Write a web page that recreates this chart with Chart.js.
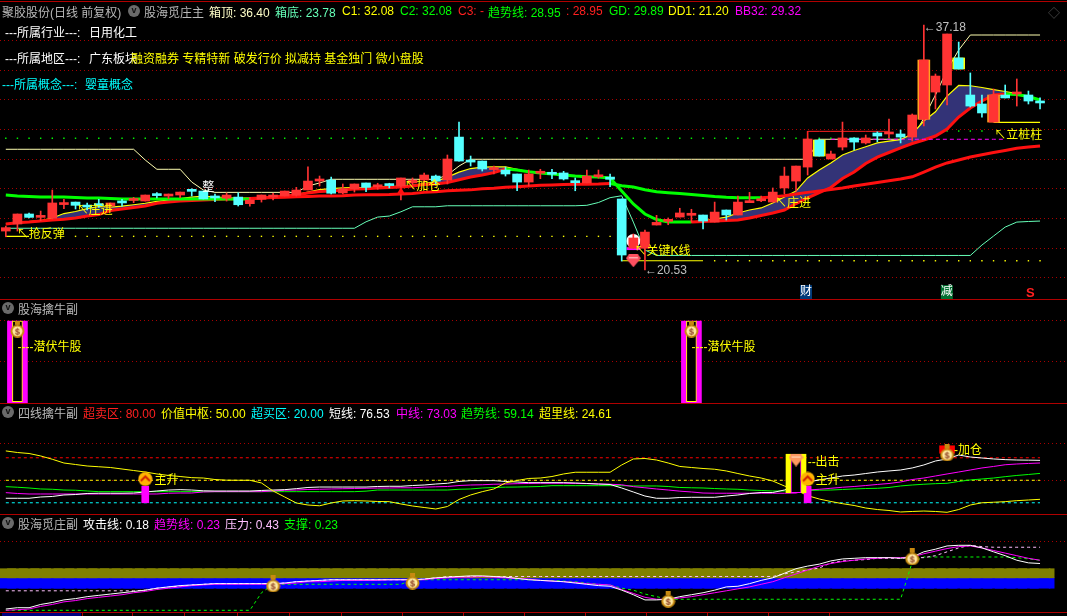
<!DOCTYPE html>
<html lang="zh-CN">
<head>
<meta charset="utf-8">
<title>聚胶股份</title>
<script src="https://cdn.jsdelivr.net/npm/chart.js@4/dist/chart.umd.min.js"></script>
<style>
  html, body { margin: 0; background: #000; overflow: hidden; }
  #page { position: relative; width: 1067px; height: 616px; background: #000; overflow: hidden; }
  #page canvas { position: absolute; left: 0; }
  .txt { position: absolute; white-space: pre; transform: translateY(-50%); font: 12px "Liberation Sans", "Noto Sans CJK SC", sans-serif; }
  .ico { position: absolute; width: 12px; height: 12px; border-radius: 50%; background: #6a6a6a; color: #111; font: bold 9px/10px "Liberation Sans"; text-align: center; }
  .sep { position: absolute; left: 0; width: 1067px; height: 1px; background: #b00000; }
  .tick { position: absolute; top: 612px; width: 1px; height: 4px; background: #b00000; }
</style>
</head>
<body>
<div id="page"></div>
<script>
// k线,从图上读的
const opens = [
  23.17,23.65,24.33,24.10,24.04,24.97,25.14,24.87,24.94,24.87,
  25.12,25.25,25.21,25.62,25.55,25.62,25.91,25.89,25.46,25.40,
  25.48,25.03,25.33,25.48,25.55,25.60,25.96,26.57,26.64,25.76,
  26.03,26.44,26.18,26.30,26.23,26.44,26.64,26.91,26.64,29.56,
  28.00,27.93,27.35,27.32,27.05,26.50,27.10,27.07,27.12,26.50,
  26.44,26.86,26.84,25.35,22.00,22.00,23.58,23.83,24.12,24.24,
  24.26,23.78,24.60,24.26,25.10,25.23,25.14,26.10,26.57,27.52,
  29.36,28.07,28.88,29.50,29.16,29.84,29.77,29.77,29.56,30.77,
  32.62,33.10,34.94,32.42,31.81,30.58,32.42,32.49,32.42,32.01];
const closes = [
  23.40,24.33,24.10,24.19,25.08,25.01,24.92,24.80,24.90,25.08,
  25.08,25.28,25.62,25.58,25.59,25.82,25.87,25.35,25.42,25.62,
  24.96,25.28,25.62,25.62,25.89,25.96,26.57,26.71,25.74,26.03,
  26.37,26.14,26.25,26.26,26.78,26.64,26.98,26.57,28.07,27.93,
  27.86,27.39,27.39,27.05,26.50,27.05,27.18,27.03,26.71,26.46,
  26.91,26.98,26.69,21.54,22.70,23.10,23.76,23.92,24.40,24.38,
  23.85,24.46,24.26,25.14,25.16,25.35,25.82,26.91,27.59,29.43,
  28.27,28.41,29.50,29.22,29.50,29.63,29.84,29.56,31.06,34.80,
  33.71,36.57,34.19,31.67,31.20,32.42,32.22,32.62,32.01,31.88];
const highs = [
  23.51,24.33,24.40,24.53,25.96,25.33,25.14,25.08,25.33,25.08,
  25.33,25.46,25.62,25.78,25.69,25.82,26.05,25.89,25.69,25.76,
  25.78,25.46,25.62,25.74,25.89,26.14,27.54,26.91,26.84,26.37,
  26.37,26.44,26.42,26.42,26.78,26.78,27.12,26.98,28.34,30.58,
  28.27,27.93,27.59,27.52,27.05,27.32,27.37,27.37,27.23,26.78,
  27.32,27.32,27.05,25.35,22.97,23.24,24.24,24.06,24.72,24.65,
  24.26,25.14,24.60,25.55,25.80,25.55,26.10,27.52,27.59,29.43,
  29.43,28.61,30.58,29.50,29.70,29.92,30.79,30.04,31.13,37.18,
  33.85,36.57,36.02,33.92,32.42,32.83,33.10,33.51,32.69,32.22];
const lows = [
  22.78,23.17,24.06,23.87,23.99,24.69,24.67,24.60,24.78,24.53,
  24.87,25.10,25.21,25.42,25.37,25.44,25.55,25.35,25.16,25.21,
  24.87,24.87,25.14,25.28,25.55,25.55,25.96,26.23,25.69,25.69,
  25.82,25.84,26.01,26.10,25.28,26.30,26.37,26.30,26.37,27.93,
  27.59,27.25,27.05,26.91,25.91,26.23,26.73,26.73,26.64,25.91,
  26.44,26.76,26.18,21.13,22.00,20.53,23.58,23.60,24.12,23.78,
  23.31,23.78,23.92,24.26,25.10,25.16,25.14,25.69,25.89,26.98,
  28.27,28.07,28.68,28.68,29.09,29.24,29.50,29.16,29.29,30.31,
  31.47,31.74,34.19,31.60,30.92,30.58,32.22,31.67,31.81,31.47];

// 主图的线
const trendLine = [
  25.62,25.55,25.52,25.48,25.48,25.48,25.45,25.42,25.42,25.38,
  25.35,25.35,25.35,25.35,25.35,25.35,25.35,25.35,25.35,25.35,
  25.35,25.35,25.42,25.45,25.46,25.50,25.52,25.55,25.56,25.57,
  25.62,25.63,25.64,25.65,25.69,25.72,25.80,25.84,25.91,25.95,
  25.97,26.05,26.08,26.14,26.18,26.23,26.28,26.30,26.33,26.35,
  26.36,26.37,26.40,26.25,26.16,25.98,25.84,25.78,25.72,25.65,
  25.59,25.52,25.47,25.44,25.44,25.44,25.48,25.57,25.69,25.80,
  25.89,25.99,26.10,26.23,26.35,26.47,26.59,26.71,26.86,27.18,
  27.52,27.80,28.00,28.20,28.36,28.51,28.65,28.80,28.88,28.95];
const c1Line = [
  23.65,23.74,23.82,23.89,24.06,24.36,24.50,24.70,24.84,24.80,
  24.87,24.96,25.06,25.19,25.28,25.38,25.48,25.55,25.48,25.45,
  25.42,25.42,25.42,25.45,25.48,25.65,25.82,25.99,26.06,26.10,
  26.12,26.13,26.16,26.20,26.23,26.28,26.39,26.54,26.84,27.18,
  27.42,27.52,27.54,27.54,27.37,27.20,27.12,27.05,26.98,26.91,
  26.86,26.84,26.78,25.89,25.01,24.33,23.95,23.78,23.78,23.78,
  23.87,23.99,24.12,24.40,24.60,24.74,25.08,25.48,25.89,26.78,
  27.32,27.80,28.34,28.65,28.90,29.16,29.29,29.39,29.77,30.65,
  31.28,32.35,33.07,33.05,32.93,32.79,32.66,32.52,32.28,32.08];
const c2Line = [
  23.65,23.74,23.78,23.85,23.92,23.97,24.06,24.19,24.29,24.57,
  24.67,24.77,24.87,25.06,25.14,25.21,25.25,25.28,25.31,25.35,
  25.37,25.38,25.42,25.48,25.55,25.62,25.76,25.86,25.89,25.96,
  26.03,26.05,26.10,26.13,26.16,26.23,26.33,26.37,26.47,26.66,
  26.84,26.98,27.14,27.39,27.32,27.20,27.12,27.05,26.98,26.91,
  26.86,26.84,26.78,25.89,25.01,24.33,23.95,23.78,23.78,23.78,
  23.82,23.85,23.89,23.92,24.06,24.23,24.40,24.60,25.04,25.42,
  25.79,26.13,26.74,27.18,27.76,28.20,28.51,28.82,29.12,29.36,
  29.63,30.11,30.92,31.54,32.01,32.42,32.49,32.45,32.32,32.08];
const boxTop = [
  28.73,28.73,28.73,28.73,28.73,28.73,28.73,28.73,28.73,28.73,
  28.73,28.73,28.00,27.37,27.37,27.37,26.50,25.96,25.80,25.80,
  25.80,25.80,25.80,25.80,25.80,25.80,26.23,26.44,26.69,26.69,
  26.69,26.69,26.69,26.69,26.69,26.69,26.69,26.69,26.98,27.59,
  28.05,28.05,28.05,28.05,28.05,28.05,28.05,28.05,28.05,28.05,
  28.05,28.05,28.05,28.05,28.05,28.05,28.05,28.05,28.05,28.05,
  28.05,28.05,28.05,28.05,28.05,28.05,28.05,28.05,28.05,28.05,
  29.41,29.41,29.41,29.41,29.41,29.41,29.41,29.41,29.41,30.86,
  32.42,34.12,35.48,36.50,36.50,36.50,36.50,36.50,36.50,36.50];
const boxBottom = [
  23.36,23.36,23.36,23.36,23.36,23.36,23.36,23.36,23.36,23.36,
  23.36,23.36,23.36,23.36,23.36,23.36,23.36,23.36,23.36,23.36,
  23.36,23.36,23.36,23.36,23.36,23.36,23.36,23.36,23.36,23.36,
  23.36,23.80,24.12,24.19,24.48,24.82,24.82,24.82,24.89,24.89,
  24.89,24.89,24.89,24.89,24.89,24.89,24.89,24.89,24.89,24.89,
  24.92,25.11,25.44,25.57,23.78,21.88,21.51,21.51,21.51,21.51,
  21.51,21.51,21.51,21.51,21.51,21.51,21.51,21.51,21.51,21.51,
  21.51,21.51,21.51,21.51,21.51,21.51,21.51,21.51,21.51,21.51,
  21.51,21.51,21.51,21.51,22.22,22.83,23.44,23.78,23.82,23.85];
// [起, 止, 值]
const gdDots = [[0, 78, 29.48], [79, 84, 29.97]];
const ddDots = [[6, 52, 22.81], [61, 89, 21.15]];
const yellowSteps = [[0, 2, 22.81], [53, 60, 21.15], [85, 89, 30.56]];
const redStep = [[69, 76, 29.95]];
const pinkStep = [[71, 86, 29.41]];
const mainGrid = [36.14, 34.07, 32.13, 30.09, 28.05, 26.05, 24.01, 22.00, 20.02];

// 四线擒牛副
const shortLine = [
  26,26,26,27.7,28.4,30.4,31,32.4,32.7,32.7,
  32.7,33,34.4,35.7,37,37.5,37,36,35.7,35.7,
  35.7,35.7,36.4,37,37.5,38.8,40.4,41,41,41,
  41,41,41.7,42,42,43,43.7,45,46,48.4,
  49.5,49.5,49.5,48.4,47.7,46.8,46.8,46.8,46.8,46.4,
  45.7,45,44.4,39.7,34.4,29,26,26,27,27.3,
  27.3,27.3,29,30.4,32.4,33.7,33.7,37,42.4,47.7,
  50.4,53,55.7,57,59,61,62.4,63.7,66.4,70.4,
  75.7,78.4,83.7,81,79.7,78.4,77.5,77,76.8,76.53];
const midLine = [
  33.5,32.4,31.7,31.7,31.7,31.7,31.7,31.7,31.7,31.7,
  31.7,31.7,31.7,31.7,32.7,33,33,34.4,34.8,34.8,
  34.8,34.8,34.8,35.7,36.7,37,37.7,38,38.4,38.7,
  39,39.3,39.6,39.7,40,40,40.8,41.3,41.7,43,
  43.7,44,44.7,45,45.5,45.7,46,46,46,45.7,
  45.5,45,44.7,44,41.5,40,38.4,37,35.5,34.4,
  33,32.7,32.7,32.7,32.7,32.7,32.7,32.7,33,37,
  38,39.3,40.7,41.7,43,44.4,45.7,47.7,51,53,
  55.7,58.4,61,63.7,66.4,68.4,70.7,71.7,72.4,73.03];
const trend3Line = [
  41.5,40.7,39.7,38.4,38,37,36.7,35.7,34.8,34.8,
  34.8,34.8,34.8,34.8,34.8,34.8,34.8,34.8,34.8,34.8,
  34.8,34.8,34.8,34.8,34.8,34.8,34.8,34.8,34.8,34.8,
  34.8,35.5,37,37,37,37,37,37,37,38,
  38.4,39.7,40.4,40.8,41,41.3,41.7,42.8,42.8,42.8,
  42.8,42.8,42.8,42.8,42.4,42.4,42.4,41.7,40.4,40,
  39.7,39,38.4,38,37,36.4,35.7,35.7,35.7,36.4,
  36.8,37,37.7,38.4,39,39.3,40.4,42.4,43.7,44.7,
  45.5,46,48.4,50.4,51.7,53,54.8,56.4,57.7,59.14];
const overLine = [
  89.1,87,85.7,82.4,78,73,71,69,68,67,
  65,63,61,58.4,56.4,55,53.5,53,51,50.1,
  50,50,46.4,35.7,27.7,19.7,17,16,19.7,22.4,
  22.8,22.4,21.7,21.5,18.4,15.7,13.7,11.7,15,24.4,
  30.4,34.8,38.4,46.4,49.7,52.4,53,55,58.4,60.7,
  60.7,60.7,60.7,70.4,78.4,79,77,73,68.4,67,
  65.7,64.7,62.4,59,55.7,53,49,42.4,37,29.5,
  25,21.7,18.8,16.4,13,11,9.7,7.7,8.4,9,
  8.4,7.3,11,17,20,20.7,21.5,22.8,23.7,24.61];
const levels = [[80, '#ff0000'], [50, '#ffff00'], [20, '#00ffff']];
const grid3 = [99.3, 50];

// 股海觅庄副
const attackLine = [
  -0.52,-0.50,-0.50,-0.45,-0.42,-0.38,-0.36,-0.33,-0.31,-0.29,
  -0.27,-0.25,-0.23,-0.20,-0.18,-0.16,-0.15,-0.14,-0.13,-0.13,
  -0.13,-0.13,-0.13,-0.13,-0.12,-0.10,-0.09,-0.08,-0.07,-0.07,
  -0.07,-0.07,-0.07,-0.07,-0.07,-0.07,-0.06,-0.04,-0.03,-0.02,
  -0.01,-0.01,-0.02,-0.03,-0.05,-0.07,-0.08,-0.09,-0.10,-0.12,
  -0.14,-0.16,-0.17,-0.23,-0.30,-0.38,-0.38,-0.37,-0.33,-0.30,
  -0.27,-0.23,-0.18,-0.17,-0.13,-0.08,-0.04,0.03,0.10,0.14,
  0.17,0.22,0.25,0.26,0.27,0.27,0.27,0.26,0.28,0.36,
  0.40,0.45,0.46,0.46,0.42,0.36,0.30,0.23,0.19,0.18];
const trend4Line = [
  -0.54,-0.53,-0.52,-0.48,-0.45,-0.41,-0.39,-0.36,-0.34,-0.32,
  -0.30,-0.27,-0.25,-0.22,-0.20,-0.18,-0.16,-0.15,-0.14,-0.14,
  -0.14,-0.14,-0.14,-0.14,-0.13,-0.12,-0.10,-0.10,-0.09,-0.08,
  -0.08,-0.08,-0.08,-0.07,-0.07,-0.07,-0.07,-0.05,-0.04,-0.03,
  -0.03,-0.02,-0.03,-0.04,-0.05,-0.06,-0.08,-0.09,-0.10,-0.11,
  -0.13,-0.14,-0.15,-0.22,-0.28,-0.34,-0.37,-0.37,-0.35,-0.33,
  -0.30,-0.27,-0.24,-0.21,-0.18,-0.14,-0.10,-0.04,0.02,0.08,
  0.14,0.18,0.21,0.23,0.25,0.26,0.27,0.27,0.28,0.33,
  0.37,0.41,0.44,0.45,0.42,0.38,0.34,0.30,0.26,0.23];
const pressureLine = [
  -0.24,-0.24,-0.24,-0.24,-0.24,-0.24,-0.24,-0.24,-0.24,-0.24,
  -0.24,-0.24,-0.23,-0.20,-0.18,-0.17,-0.15,-0.14,-0.13,-0.13,
  -0.13,-0.13,-0.13,-0.13,-0.12,-0.10,-0.09,-0.08,-0.07,-0.07,
  -0.07,-0.07,-0.07,-0.07,-0.07,-0.07,-0.06,-0.04,-0.02,-0.02,
  -0.02,-0.02,-0.02,-0.02,-0.02,-0.02,-0.02,-0.02,-0.02,-0.02,
  -0.02,-0.02,-0.02,-0.02,-0.02,-0.02,-0.02,-0.02,-0.02,-0.02,
  -0.02,-0.02,-0.02,-0.02,-0.02,-0.02,-0.02,0.02,0.05,0.08,
  0.11,0.19,0.22,0.23,0.24,0.26,0.26,0.26,0.27,0.27,
  0.30,0.36,0.42,0.46,0.44,0.43,0.43,0.43,0.43,0.43];
const supportLine = [
  -0.54,-0.54,-0.54,-0.54,-0.54,-0.54,-0.54,-0.54,-0.54,-0.54,
  -0.54,-0.54,-0.54,-0.54,-0.54,-0.54,-0.54,-0.54,-0.54,-0.54,
  -0.54,-0.54,-0.27,-0.14,-0.14,-0.14,-0.14,-0.14,-0.14,-0.14,
  -0.14,-0.14,-0.14,-0.14,-0.14,-0.07,-0.07,-0.07,-0.07,-0.07,
  -0.07,-0.07,-0.07,-0.07,-0.07,-0.07,-0.08,-0.08,-0.09,-0.10,
  -0.12,-0.14,-0.15,-0.20,-0.23,-0.29,-0.33,-0.37,-0.37,-0.37,
  -0.37,-0.37,-0.37,-0.37,-0.37,-0.37,-0.37,-0.37,-0.37,-0.37,
  -0.37,-0.37,-0.37,-0.37,-0.37,-0.37,-0.37,-0.37,0.20,0.28,
  0.28,0.28,0.28,0.28,0.28,0.28,0.28,0.27,0.25,0.23];
const oliveBand = [-0.04, 0.10];
const blueBand = [-0.20, -0.04];
const grid4 = [0.52];

const FONT = '12px "Liberation Sans", "Noto Sans CJK SC", sans-serif';
const RED = '#ff3333', CYAN = '#54ffff', GREEN = '#00ff00', MAG = '#ff00ff', YEL = '#ffff00';
const page = document.getElementById('page');

const pts = arr => arr.map((v, i) => ({ x: i, y: v }));
const runs = list => {
  const out = [];
  list.forEach(r => { for (let i = r[0]; i <= r[1]; i++) out.push({ x: i, y: r[2] }); out.push({ x: r[1] + 0.5, y: null }); });
  return out;
};
const line = (data, color, width, order, extra) => Object.assign(
  { type: 'line', data, borderColor: color, borderWidth: width, pointRadius: 0, tension: 0, order, spanGaps: false }, extra);
const bar = (data, color, thick, order, extra) => Object.assign(
  { type: 'bar', data, backgroundColor: color, barThickness: thick, grouped: false, borderSkipped: false, order }, extra);
const dots = (data, color, order) => line(data, color, 0, order, { showLine: false, pointRadius: 1, pointStyle: 'rect', backgroundColor: color });
const icon = (x, y, style, order, extra) => Object.assign(
  { type: 'scatter', data: [{ x, y }], pointStyle: style, order, pointRadius: 8, borderWidth: 0 }, extra);

// 小图标
function makeIcon(w, h, draw) {
  const c = document.createElement('canvas');
  c.width = w; c.height = h;
  draw(c.getContext('2d'));
  return c;
}
const bagIcon = makeIcon(15, 17, g => {
  g.fillStyle = '#c88a10';
  g.fillRect(5, 0, 5, 4);
  g.beginPath(); g.ellipse(7.5, 10.5, 7, 6.5, 0, 0, 7); g.fill();
  g.fillStyle = '#ffe9a0';
  g.beginPath(); g.ellipse(7.5, 10.5, 5, 4.8, 0, 0, 7); g.fill();
  g.fillStyle = '#8a3a20'; g.font = 'bold 9px "Liberation Sans"'; g.textAlign = 'center';
  g.fillText('$', 7.5, 14);
});
const upIcon = makeIcon(15, 15, g => {
  g.fillStyle = '#ffb400';
  g.beginPath(); g.arc(7.5, 7.5, 7, 0, 7); g.fill();
  g.strokeStyle = '#d02000'; g.lineWidth = 2;
  g.beginPath(); g.moveTo(3, 9.5); g.lineTo(7.5, 5); g.lineTo(12, 9.5); g.stroke();
});
const gemIcon = makeIcon(15, 13, g => {
  g.fillStyle = '#ff9a60';
  g.beginPath(); g.moveTo(3, 0); g.lineTo(12, 0); g.lineTo(15, 4); g.lineTo(7.5, 13); g.lineTo(0, 4); g.fill();
  g.fillStyle = '#ffe0c0'; g.fillRect(3, 3, 9, 1);
});
const redGem = makeIcon(15, 13, g => {
  g.fillStyle = '#ff5060';
  g.beginPath(); g.moveTo(3, 0); g.lineTo(12, 0); g.lineTo(15, 4); g.lineTo(7.5, 13); g.lineTo(0, 4); g.fill();
  g.fillStyle = '#ffd0d0'; g.fillRect(3, 3, 9, 1);
});

function panel(top, height, ymin, ymax, gridVals, datasets, notes) {
  const cv = document.createElement('canvas');
  cv.width = 1067; cv.height = height;
  cv.style.top = top + 'px';
  page.appendChild(cv);
  new Chart(cv, {
    data: { datasets },
    plugins: [{
      id: 'notes',
      afterDraw(c) {
        const g = c.ctx;
        g.save();
        g.textBaseline = 'middle';
        notes.forEach(n => {
          const px = c.scales.x.getPixelForValue(n.x), py = c.scales.y.getPixelForValue(n.y);
          if (n.bg) {
            g.fillStyle = n.bg;
            g.fillRect(px - 6, py - 7, 12, 14);
          }
          g.font = n.font || FONT;
          g.fillStyle = n.color;
          g.textAlign = n.bg ? 'center' : 'left';
          g.fillText(n.text, px, py);
        });
        g.restore();
      }
    }],
    options: {
      responsive: false,
      animation: false,
      parsing: { xAxisKey: 'x', yAxisKey: 'y' },
      layout: { padding: 0, autoPadding: false },
      plugins: { legend: { display: false }, tooltip: { enabled: false } },
      scales: {
        x: { type: 'linear', display: false, offset: false, min: -0.5, max: 91.32 },
        y: {
          min: ymin, max: ymax,
          ticks: { display: false },
          border: { display: false, dash: [1, 3] },
          grid: { color: '#a80000', drawTicks: false },
          afterBuildTicks: s => { s.ticks = gridVals.map(v => ({ value: v })); }
        }
      }
    }
  });
}

// 主图
const candleColor = opens.map((o, i) => closes[i] >= o ? RED : CYAN);
const onlyAt = (days, color) => bar(days.map(i => ({ x: i, y: [Math.min(opens[i], closes[i]), Math.max(opens[i], closes[i])] })), color, 12, 25);
panel(0, 299, 18.55, 38.88, mainGrid, [
  line(pts(boxTop), '#ffffb0', 1, 60),
  line(pts(boxBottom), '#66ffb8', 1, 60),
  dots(runs(gdDots), GREEN, 55),
  dots(runs(ddDots), YEL, 55),
  line(pts(c1Line), YEL, 1.2, 50, { fill: { target: '+1', above: '#333377', below: 'rgba(0,0,0,0)' } }),
  line(pts(c2Line), RED, 3, 45, { segment: { borderColor: s => s.p1.parsed.y > s.p0.parsed.y ? '#ff1010' : GREEN } }),
  line(pts(trendLine), RED, 3, 40, { segment: { borderColor: s => s.p1.parsed.y > s.p0.parsed.y ? '#ff1010' : GREEN } }),
  line(runs(yellowSteps), YEL, 1.2, 35),
  line(runs(redStep), '#ff2020', 1, 35),
  bar([{ x: 69, y: [29.43, 29.95] }], '#ff2020', 1, 35),
  line(runs(pinkStep), MAG, 1, 35, { borderDash: [4, 3] }),
  icon(54, 22.5, 'circle', 30, { backgroundColor: '#ffffff', pointRadius: 7 }),
  bar([{ x: 54, y: [21.9, 22.05] }], MAG, 13, 29),
  onlyAt([70, 82], YEL),
  onlyAt([79, 85], '#ffa020'),
  bar(lows.map((l, i) => ({ x: i, y: [l, highs[i]] })), candleColor, 1, 20),
  bar(opens.map((o, i) => ({ x: i, y: [o, closes[i]] })), candleColor, 9, 15, { minBarLength: 2 }),
  icon(34, 25.82, 'triangle', 10, { backgroundColor: '#ff1010', pointRadius: 5 }),
  icon(54, 21.15, redGem, 10)
], [
  { x: 0.95, y: 22.95, text: '↖抢反弹', color: YEL },
  { x: 6.1, y: 24.53, text: '↖庄进', color: YEL },
  { x: 34.3, y: 26.16, text: '↖加仓', color: YEL },
  { x: 66.2, y: 25.01, text: '↖庄进', color: YEL },
  { x: 54.1, y: 21.74, text: '↖关键K线', color: YEL },
  { x: 55, y: 20.45, text: '←20.53', color: '#c0c0c0' },
  { x: 79, y: 36.98, text: '←37.18', color: '#c0c0c0' },
  { x: 85.05, y: 29.63, text: '↖立桩柱', color: YEL },
  { x: 16.9, y: 26.1, text: '整', color: '#ffffff' },
  { x: 68.86, y: 19.02, text: '财', color: '#ffffff', bg: '#003a78' },
  { x: 80.98, y: 19.02, text: '减', color: '#ffffff', bg: '#007030' },
  { x: 87.8, y: 18.9, text: 'S', color: '#ff2020', font: 'bold 13px "Liberation Sans"' }
]);

// 股海擒牛副
const signalDays = [1, 59];
const sig = (lo, hi) => signalDays.map(i => ({ x: i, y: [lo, hi] }));
panel(299, 104, 0, 126.8, [100, 51], [
  bar(sig(0, 100), MAG, 20, 20),
  bar(sig(1.5, 100), '#000000', 10, 15, { borderColor: YEL, borderWidth: 1 }),
  icon(1, 90, bagIcon, 5),
  icon(59, 90, bagIcon, 5)
], [
  { x: 1, y: 68, text: '----潜伏牛股', color: YEL },
  { x: 59, y: 68, text: '----潜伏牛股', color: YEL }
]);

// 四线擒牛副
panel(403, 112, 3.7, 153, grid3, [
  ...levels.map(l => line([{ x: 0, y: l[0] }, { x: 89, y: l[0] }], l[1], 1, 60, { borderDash: [3, 3] })),
  line(pts(trend3Line), GREEN, 1, 50),
  line(pts(midLine), MAG, 1, 45),
  line(pts(shortLine), '#ffffff', 1, 40),
  line(pts(overLine), YEL, 1, 35),
  bar([{ x: 12, y: [20, 42] }, { x: 69, y: [20, 42] }], MAG, 7, 25),
  bar([{ x: 68, y: [33.5, 84.7] }], YEL, 20, 20),
  bar([{ x: 68, y: [33.5, 84.7] }], '#000000', 10, 15, { borderColor: MAG, borderWidth: 1 }),
  bar([{ x: 81, y: [86, 96] }], '#ff0000', 15, 15),
  icon(12, 51.7, upIcon, 5),
  icon(69, 51.7, upIcon, 5),
  icon(68, 77, gemIcon, 5),
  icon(81, 86.4, bagIcon, 5)
], [
  { x: 12.8, y: 50, text: '主升', color: YEL },
  { x: 69.7, y: 49, text: '主升', color: YEL },
  { x: 69, y: 74, text: '--出击', color: YEL },
  { x: 81.6, y: 90, text: '-加仓', color: YEL }
]);

// 股海觅庄副
const allDays = attackLine.map((v, i) => i);
panel(515, 97, -0.566, 0.926, grid4, [
  bar(allDays.map(i => ({ x: i, y: oliveBand })), '#808000', 20, 70),
  bar([{ x: 90, y: oliveBand }], '#808000', 5, 70),
  bar(allDays.map(i => ({ x: i, y: blueBand })), '#0000ff', 20, 70),
  bar([{ x: 90, y: blueBand }], '#0000ff', 5, 70),
  line(pts(supportLine), GREEN, 1, 50, { borderDash: [3, 3] }),
  line(pts(pressureLine), '#ffc0ff', 1, 45, { borderDash: [3, 3] }),
  line(pts(trend4Line), MAG, 1, 40),
  line(pts(attackLine), '#ffffff', 1, 35),
  icon(23, -0.135, bagIcon, 5),
  icon(35, -0.09, bagIcon, 5),
  icon(57, -0.37, bagIcon, 5),
  icon(78, 0.28, bagIcon, 5)
], []);

// 标题文字
const texts = [
  [2, 11, '聚胶股份(日线 前复权)', '#b8b8b8'], [144, 11, '股海觅庄主', '#b8b8b8'],
  [209, 11, '箱顶: 36.40', '#ffffc8'], [275, 11, '箱底: 23.78', '#66ffb8'],
  [342, 11, 'C1: 32.08', YEL], [400, 11, 'C2: 32.08', GREEN], [458, 11, 'C3: -', '#ff2020'],
  [488, 11, '趋势线: 28.95', GREEN], [566, 11, ': 28.95', '#ff2020'],
  [609, 11, 'GD: 29.89', GREEN], [668, 11, 'DD1: 21.20', YEL], [735, 11, 'BB32: 29.32', MAG],
  [5, 31, '---所属行业---:', '#ffffff'], [89, 31, '日用化工', '#ffffff'],
  [5, 57, '---所属地区---:', '#ffffff'], [89, 57, '广东板块', '#ffffff'],
  [131, 57, '融资融券 专精特新 破发行价 拟减持 基金独门 微小盘股', YEL],
  [2, 83, '---所属概念---:', '#00ffff'], [85, 83, '婴童概念', '#00ffff'],
  [18, 308, '股海擒牛副', '#b8b8b8'],
  [18, 412, '四线擒牛副', '#b8b8b8'], [83, 412, '超卖区: 80.00', '#ff2020'], [161, 412, '价值中枢: 50.00', YEL],
  [251, 412, '超买区: 20.00', '#00ffff'], [329, 412, '短线: 76.53', '#ffffff'], [396, 412, '中线: 73.03', MAG],
  [461, 412, '趋势线: 59.14', GREEN], [539, 412, '超里线: 24.61', YEL],
  [18, 523, '股海觅庄副', '#b8b8b8'], [83, 523, '攻击线: 0.18', '#ffffff'], [154, 523, '趋势线: 0.23', MAG],
  [225, 523, '压力: 0.43', '#ffc0ff'], [284, 523, '支撑: 0.23', GREEN],
  [1048, 12, '◇', '#505050']
];
texts.forEach(t => {
  const d = document.createElement('div');
  d.className = 'txt';
  d.style.left = t[0] + 'px';
  d.style.top = t[1] + 'px';
  d.style.color = t[3];
  d.textContent = t[2];
  page.appendChild(d);
});
[[128, 5], [2, 302], [2, 406], [2, 517]].forEach(p => {
  const d = document.createElement('div');
  d.className = 'ico';
  d.style.left = p[0] + 'px';
  d.style.top = p[1] + 'px';
  d.textContent = 'v';
  page.appendChild(d);
});

// 分隔线和底部刻度
[1, 299, 403, 514, 612].forEach(y => {
  const d = document.createElement('div');
  d.className = 'sep';
  d.style.top = y + 'px';
  page.appendChild(d);
});
[82, 132, 184, 237, 289, 341, 402, 463, 524, 585, 646, 707, 768, 829].forEach(x => {
  const d = document.createElement('div');
  d.className = 'tick';
  d.style.left = x + 'px';
  page.appendChild(d);
});
const dateBox = document.createElement('div');
dateBox.style.cssText = 'position:absolute;left:2px;top:613px;width:79px;height:3px;background:#000080;';
page.appendChild(dateBox);
</script>
</body>
</html>
